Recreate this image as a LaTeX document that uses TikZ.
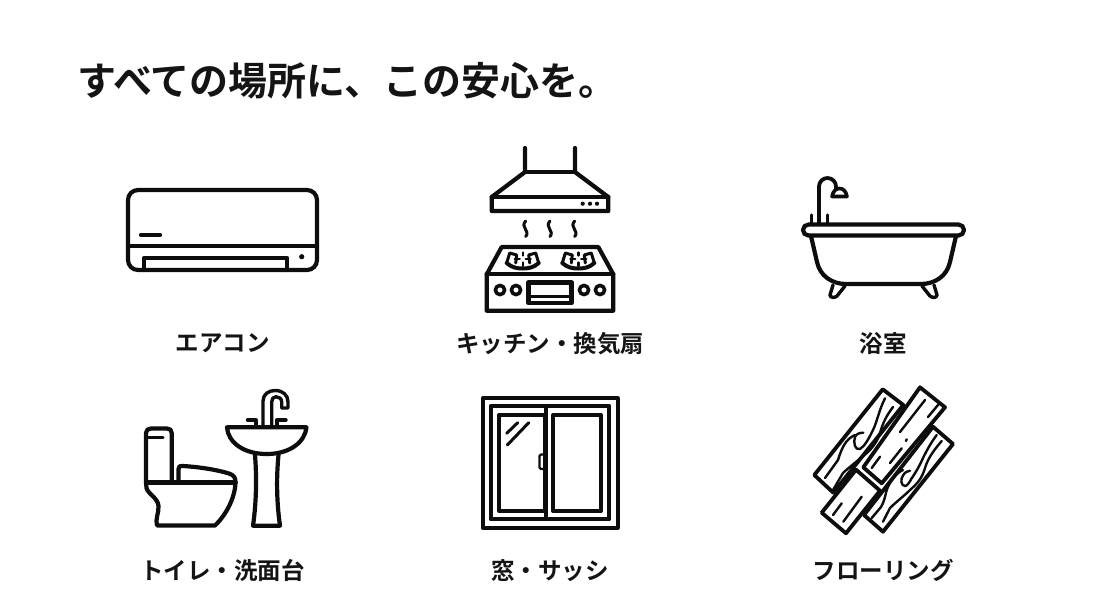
\documentclass[tikz,border=0pt]{standalone}
\usepackage{fontspec}
\setmainfont{Noto Sans CJK JP}[BoldFont={Noto Sans CJK JP Bold}]
\usetikzlibrary{positioning, calc}

\begin{document}
\begin{tikzpicture}[
                x=1pt, y=-1pt,
                line cap=round, line join=round,
                icon/.style={draw=black!95, line width=4.2pt},
                thin icon/.style={draw=black!95, line width=2.4pt},
                plank/.style={icon, fill=white, line width=3.8pt},
                title/.style={font=\fontsize{39}{39}\selectfont\bfseries, text=black!92, anchor=west, inner sep=0pt},
                label/.style={font=\fontsize{23.5}{24}\selectfont\bfseries, text=black!92, inner sep=0pt}]

    \useasboundingbox (0,0) rectangle (1100,614);

    %%% TEXTS
    \node [title] (headline) at (77,81) {すべての場所に、この安心を。};
    \node [label] (aircon) at (222.5,343.5) {エアコン};
    \node [label] (kitchen) at (550,343.5) {キッチン・換気扇};
    \node [label] (bathroom) at (883,343.5) {浴室};
    \node [label] (toilet) at (222.5,570.5) {トイレ・洗面台};
    \node [label] (window) at (550,570.5) {窓・サッシ};
    \node [label] (flooring) at (883,570.5) {フローリング};

    %%% AIR CONDITIONER
    \draw [icon, rounded corners=10pt] (128,190) rectangle (317,270);
    \draw [icon] (128,246) -- (317,246);
    \draw [icon] (141,235) -- (160,235);
    \draw [icon] (144,270) -- (144,258) -- (287,258) -- (287,270);
    \fill [black!95] (301.7,256.7) circle (2.6);

    %%% HOOD
    \draw [icon] (525,148) -- (525,172) -- (491.7,197) -- (491.7,211) -- (608.3,211) -- (608.3,197) -- (575,172) -- (575,148);
    \draw [icon] (525,172) -- (575,172);
    \draw [icon] (491.7,197) -- (608.3,197);
    \foreach \x in {582.7, 590, 597}
        \fill [black!95] (\x,203.7) circle (2.1);
    \foreach \x in {525.7, 550, 574.7}
        \draw [thin icon, line width=3pt] (\x,221) .. controls (\x-6,227) and (\x+5,231) .. (\x,236.5);

    %%% STOVE
    \draw [icon] (501.7,247) -- (598.3,247) -- (613.3,274.3) -- (613.3,310.7) -- (486.7,310.7) -- (486.7,274.3) -- cycle;
    \draw [icon] (486.7,274.3) -- (613.3,274.3);
    \foreach \x in {500, 516, 584, 600}
        \draw [icon, line width=3.6pt] (\x,290) circle (4.6);
    \draw [icon] (528.5,282.5) rectangle (571.5,303.3);
    \draw [thin icon, line width=3pt] (528.5,296) -- (571.5,296);
    \foreach \x in {522.7, 578.3} {
        \draw [icon, line width=4pt] (\x-16,263) .. controls (\x-11,267.5) and (\x-6,268.5) .. (\x,268.5) .. controls (\x+6,268.5) and (\x+11,267.5) .. (\x+16,263);
        \draw [thin icon, line width=3pt] (\x-16,263) -- (\x-13,253) -- (\x-6,255) -- (\x-7,263);
        \draw [thin icon, line width=3pt] (\x+16,263) -- (\x+13,253) -- (\x+6,255) -- (\x+7,263);
        \draw [thin icon] (\x-8,259) -- (\x-3,259);
        \draw [thin icon] (\x+8,259) -- (\x+3,259);
        \draw [thin icon] (\x,252.5) -- (\x,255.5);
        \draw [thin icon] (\x,262.5) -- (\x,266);
    }

    %%% BATH
    \draw [icon, line width=3.8pt] (819,224) -- (819,186.5) arc (180:360:8.5) -- (836,189);
    \draw [icon, line width=3.6pt, fill=white] (832,196.5) .. controls (833,191) and (836,188.5) .. (839.5,188.5) .. controls (843,188.5) and (846,191) .. (847,196.5) -- cycle;
    \draw [icon, line width=3.4pt] (811.7,215) -- (811.7,224);
    \draw [icon, line width=3.4pt] (827.3,215) -- (827.3,224);
    \draw [icon, rounded corners=5.5pt] (803,224.5) rectangle (964,235.5);
    \draw [icon] (811,236) -- (817,262) .. controls (820,276) and (832,284) .. (846,284) -- (921,284) .. controls (935,284) and (947,276) .. (950,262) -- (956,236);
    \draw [icon, line width=3.4pt] (833,285) -- (830,295) .. controls (830,298) and (835,298) .. (837,296) -- (845,286);
    \draw [icon, line width=3.4pt] (934,285) -- (937,295) .. controls (937,298) and (932,298) .. (930,296) -- (922,286);

    %%% TOILET
    \draw [icon] (146,482) -- (146,433) .. controls (146,430) and (148,428.5) .. (151,428.5) -- (167,428.5) .. controls (170,428.5) and (171.7,430) .. (171.7,433) -- (171.7,482);
    \draw [thin icon, line width=3.2pt] (147,437.5) -- (163,437.5);
    \draw [icon] (178.5,482) -- (178.5,469) .. controls (178.5,466) and (180,465.5) .. (183,466) .. controls (200,467) and (218,470) .. (229,473.5) .. controls (234,475) and (235.5,478) .. (235.5,482);
    \draw [icon] (146,482.5) -- (235.5,482.5);
    \draw [icon] (146,482.5) -- (146.5,488) .. controls (148,494) and (158,498) .. (158.5,506) .. controls (159,513) and (155,519) .. (157,525.5) -- (215,525.5) .. controls (226,515) and (235,498) .. (235.5,482.5);

    %%% SINK
    \draw [icon] (227,427.3) -- (306.5,427.3) .. controls (305,442) and (290,454) .. (266.7,454) .. controls (243,454) and (228,442) .. (227,427.3) -- cycle;
    \draw [icon] (255,455) .. controls (257,480) and (256,505) .. (253,525.7) -- (280,525.7) .. controls (277,505) and (276,480) .. (278.5,455);
    \draw [icon, line width=3.4pt] (263,426) -- (263,401) .. controls (263,394) and (269,390.5) .. (275,390.5) .. controls (283,390.5) and (288,395) .. (288,402) -- (288,408) -- (281.7,408) -- (281.7,402) .. controls (281.7,398.5) and (279,396.7) .. (276,396.7) .. controls (273,396.7) and (271.7,399) .. (271.7,402) -- (271.7,426);
    \draw [icon, line width=3.4pt] (247.5,420) -- (256,420) -- (256,426);
    \draw [icon, line width=3.4pt] (286,420) -- (277,420) -- (277,426);

    %%% WINDOW
    \draw [icon, line cap=butt] (482.7,398.3) rectangle (617.7,527.7);
    \draw [icon, line cap=butt] (490.7,406) rectangle (609.3,519.3);
    \draw [icon, line cap=butt] (499.3,415) rectangle (545.5,511);
    \draw [icon, line cap=butt] (553.3,415) rectangle (600.7,511);
    \draw [icon, line cap=butt] (545.7,406) -- (545.7,519);
    \draw [thin icon, rounded corners=1.5pt] (545,454.5) -- (539.5,454.5) -- (539.5,469) -- (545,469);
    \draw [thin icon, line width=3pt] (506.7,433.3) -- (517.7,422.7);
    \draw [thin icon, line width=3pt] (507.3,445) -- (528.7,422.7);

    %%% FLOORING
    \draw [plank] (821.7,512.7) -- (846,533.3) -- (880,490.7) -- (856,469.7) -- cycle;
    \draw [plank] (882.7,389.3) -- (903.3,405) -- (833.3,492.7) -- (814.3,475) -- cycle;
    \draw [plank] (933,426.7) -- (953,444) -- (883,531.7) -- (864,515) -- cycle;
    \draw [plank] (920,387.3) -- (945,407.3) -- (881.7,483.3) -- (863.3,467.3) -- cycle;
    %%% grain
    \draw [thin icon] (885,398.3) .. controls (879,410) and (877,422) .. (873,430) .. controls (869,438) and (865,446) .. (860,449) .. controls (855,451) and (853,442) .. (855,437) .. controls (856,434) and (860,432.5) .. (863.3,432.7);
    \draw [thin icon] (893,407) .. controls (887,415) and (883,422) .. (880,433) .. controls (877,442) and (873,447) .. (868,452) .. controls (860,459) and (848,468) .. (843,473) -- (833,490);
    \draw [thin icon] (855,435) .. controls (846,439) and (842,447) .. (838,460) -- (825,478);
    \draw [thin icon] (938,405) -- (928,417);
    \draw [thin icon] (925,400) -- (900,432);
    \draw [thin icon] (906.7,439.3) -- (906,441);
    \draw [thin icon] (901.7,448.3) -- (890,463);
    \draw [thin icon] (880,456.7) -- (871.7,468);
    \draw [thin icon] (841.7,503.3) -- (833,515);
    \draw [thin icon] (861.7,496.7) -- (843.3,521.7);
    \draw [thin icon] (936.7,435) .. controls (930,444) and (926,452) .. (923,458) .. controls (920,465) and (916,472) .. (911.7,478.3) .. controls (909,483) and (907,486) .. (905,486) .. controls (901,486) and (900,479) .. (903.3,475) .. controls (905,472) and (908,471) .. (910,470.7);
    \draw [thin icon] (941.7,441) .. controls (934,450) and (928,458) .. (925,468) .. controls (922,478) and (918,483) .. (910,490) .. controls (904,496) and (896,502) .. (890,508) -- (883,521.7);
    \draw [thin icon] (903,470) .. controls (896,473) and (890,481) .. (886.7,490) .. controls (885,497) and (884,502) .. (881,507) -- (871.7,518);
\end{tikzpicture}
\end{document}
